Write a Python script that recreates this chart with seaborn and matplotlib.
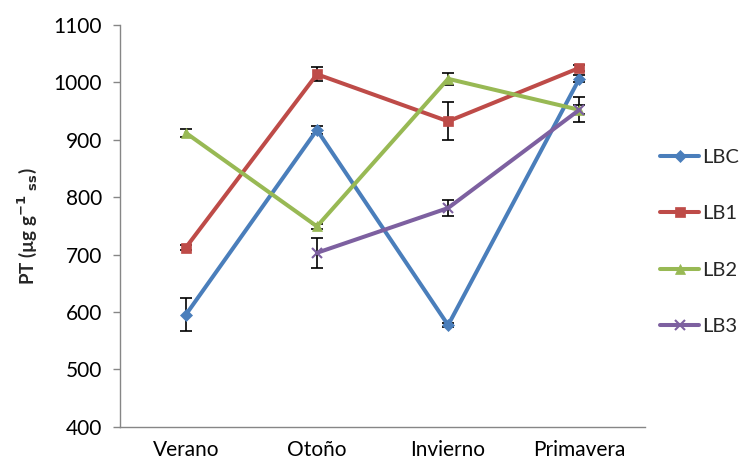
import numpy as np
import pandas as pd
import matplotlib
matplotlib.use("Agg")
import matplotlib.pyplot as plt
import seaborn as sns

# data
seasons = ['Verano', 'Otoño', 'Invierno', 'Primavera']
series = ['LBC', 'LB1', 'LB2', 'LB3']
lbc = [595, 917, 577, 1006]
lb1 = [712, 1014, 932, 1025]
lb2 = [912, 749, 1006, 952]
lb3 = [np.nan, 703, 781, 952]
lbc_err = [29, 7, 3, 6]
lb1_err = [4, 12, 33, 5]
lb2_err = [7, 4, 10, 8]
lb3_err = [np.nan, 26, 14, 22]

colors = ['#4A7EBB', '#BE4B48', '#98B954', '#7D60A0']
markers = ['D', 's', '^', 'x']

rows = []
for name, vals, errs in zip(series, [lbc, lb1, lb2, lb3], [lbc_err, lb1_err, lb2_err, lb3_err]):
    for i, s in enumerate(seasons):
        rows.append({'Season': s, 'pos': i, 'Serie': name, 'PT': vals[i], 'err': errs[i]})
df = pd.DataFrame(rows)

sns.set_style('white')
plt.rcParams['font.family'] = ['Lato', 'DejaVu Sans']

fig, ax = plt.subplots(figsize=(7.56, 4.69), dpi=100)

for name, c, m in zip(series, colors, markers):
    d = df[df['Serie'] == name].dropna()
    ax.errorbar(d['pos'], d['PT'], yerr=d['err'], fmt='none', ecolor='black',
                elinewidth=1.2, capsize=4, capthick=1.2, zorder=2)
    sns.lineplot(data=d, x='pos', y='PT', color=c, marker=m, linewidth=2.9,
                 markersize=6.5 if m != 'x' else 7.5, markeredgecolor=c,
                 markeredgewidth=1.5 if m == 'x' else 0.5,
                 label=name, ax=ax, zorder=3, sort=False)

ax.set_xlim(-0.5, 3.5)
ax.set_ylim(400, 1100)
ax.set_yticks(range(400, 1101, 100))
ax.set_xticks(range(len(seasons)))
ax.set_xticklabels(seasons)
ax.tick_params(axis='both', labelsize=15, colors='black')
ax.tick_params(axis='y', left=True, length=5, width=1, color='#868686', pad=8)
ax.tick_params(axis='x', bottom=False, pad=6)
ax.set_xlabel('')
ax.set_ylabel(r'PT (µg g$^{\mathbf{-1}}$ $_{\mathbf{ss}}$)', fontsize=13.5,
              fontweight='bold', labelpad=10)

for side in ['top', 'right']:
    ax.spines[side].set_visible(False)
for side in ['left', 'bottom']:
    ax.spines[side].set_color('#868686')
    ax.spines[side].set_linewidth(1)

ax.legend(loc='center left', bbox_to_anchor=(0.995, 0.46), frameon=False,
          fontsize=14.5, handlelength=1.9, handletextpad=0.15, labelspacing=1.95)

fig.subplots_adjust(left=0.159, right=0.853, top=0.947, bottom=0.09)
fig.savefig('out.png', dpi=100)
